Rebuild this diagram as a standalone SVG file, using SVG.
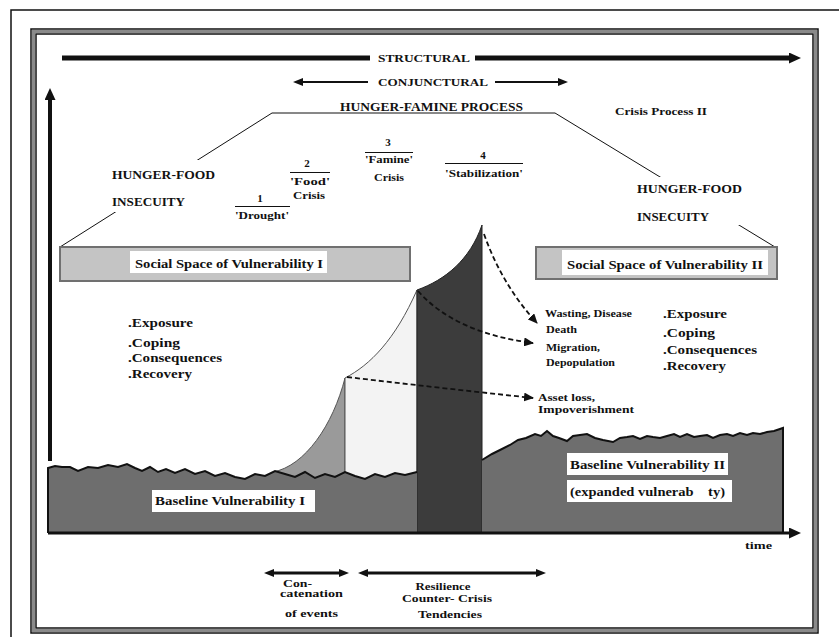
<svg xmlns="http://www.w3.org/2000/svg" width="839" height="637" viewBox="0 0 839 637">
<style>
.t{font-family:'Liberation Serif','DejaVu Serif','Times New Roman',serif;font-weight:700;fill:#111;}
.s10{font-size:10px}.s11{font-size:11px}.s12{font-size:12px}.s13{font-size:13px}
.m{text-anchor:middle}
.ln{fill:none;stroke:#111;}
.dash{fill:none;stroke:#111;stroke-width:1.8;stroke-dasharray:5,3;}
.wb{fill:#fff;stroke:none}
.pre{white-space:pre}
</style>
<defs>
<marker id="big" viewBox="0 0 12 11" markerWidth="12" markerHeight="11" refX="1" refY="5.5" orient="auto-start-reverse" markerUnits="userSpaceOnUse"><path d="M0,0 L12,5.5 L0,11 z" fill="#111"/></marker>
<marker id="sm" viewBox="0 0 10 8" markerWidth="10" markerHeight="8" refX="1" refY="4" orient="auto-start-reverse" markerUnits="userSpaceOnUse"><path d="M0,0 L10,4 L0,8 z" fill="#111"/></marker>
<marker id="dh" viewBox="0 0 10 9" markerWidth="10" markerHeight="9" refX="9" refY="4.5" orient="auto" markerUnits="userSpaceOnUse"><path d="M0,0 L10,4.5 L0,9 z" fill="#111"/></marker>
</defs>

<g id="frame">
<path d="M11,637 V10 H839" fill="none" stroke="#111" stroke-width="1.5"/>
<rect x="33.5" y="31.5" width="782" height="599" fill="none" stroke="#8a8a8a" stroke-width="3"/>
<rect x="31" y="29" width="787" height="604" fill="none" stroke="#111" stroke-width="1.5"/>
<rect x="36" y="34" width="777" height="594" fill="none" stroke="#111" stroke-width="1.5"/>
</g>

<g id="process-outline">
<polyline class="ln" points="60,247 272,113 555,113 775,247" stroke="#333" stroke-width="1"/>
<rect class="wb" x="108" y="160" width="112" height="52"/>
<rect class="wb" x="630" y="177" width="117" height="48"/>
</g>

<g id="social-space-1">
<rect x="60" y="247" width="350" height="34" fill="#c4c4c4" stroke="#707070" stroke-width="2"/>
<rect class="wb" x="130" y="251" width="197" height="22"/>
<text class="t s13" x="135" y="268" textLength="188" lengthAdjust="spacingAndGlyphs">Social Space of Vulnerability I</text>
</g>
<g id="social-space-2">
<rect x="536" y="247" width="241" height="32" fill="#c4c4c4" stroke="#707070" stroke-width="2"/>
<rect class="wb" x="562" y="250" width="206" height="25"/>
<text class="t s13" x="567" y="269" textLength="196" lengthAdjust="spacingAndGlyphs">Social Space of Vulnerability II</text>
</g>

<g id="crisis-regions">
<path d="M273,472 C305,466 333,425 345,378 L345,482 L273,482 Z" fill="#9a9a9a" stroke="#555" stroke-width="1"/>
<path d="M345,378 C370,365 395,340 417,290 L417,482 L345,482 Z" fill="#f3f3f3" stroke="#555" stroke-width="1"/>
<path d="M417,290 C445,280 470,260 482,225 L482,533 L417,533 Z" fill="#3c3c3c" stroke="#222" stroke-width="1"/>
</g>

<g id="baseline-1">
<path d="M48,533 L48,468 L55,466 L62,467 L70,467 L78,471 L88,467 L98,468 L108,465 L118,467 L127,464 L135,468 L142,471 L150,467 L158,472 L166,469 L175,473 L185,469 L195,474 L205,471 L215,476 L225,473 L235,477 L245,479 L255,474 L265,476 L275,471 L285,474 L295,477 L305,472 L315,478 L325,474 L335,477 L345,472 L355,476 L365,479 L375,474 L385,477 L395,473 L405,475 L417,472 L417,533 Z" fill="#6e6e6e"/>
<polyline class="ln" stroke-width="2" points="48,533 48,468 55,466 62,467 70,467 78,471 88,467 98,468 108,465 118,467 127,464 135,468 142,471 150,467 158,472 166,469 175,473 185,469 195,474 205,471 215,476 225,473 235,477 245,479 255,474 265,476 275,471 285,474 295,477 305,472 315,478 325,474 335,477 345,472 355,476 365,479 375,474 385,477 395,473 405,475 417,472"/>
<rect class="wb" x="152" y="490" width="163" height="22"/>
<text class="t s12" x="155" y="505" textLength="150" lengthAdjust="spacingAndGlyphs">Baseline Vulnerability I</text>
</g>

<g id="baseline-2">
<path d="M482,533 L482,460 L492,454 L500,450 L510,445 L518,440 L526,438 L535,434 L541,436 L547,431 L553,436 L559,438 L567,441 L573,436 L580,435 L587,434 L595,438 L603,440 L613,442 L620,438 L627,437 L633,436 L640,439 L647,436 L653,437 L660,438 L667,436 L674,434 L680,437 L687,434 L694,437 L700,436 L707,435 L713,438 L720,435 L727,434 L733,436 L740,433 L747,435 L753,433 L760,434 L767,432 L774,431 L783,428 L783,533 Z" fill="#6e6e6e"/>
<polyline class="ln" stroke-width="2" points="482,460 492,454 500,450 510,445 518,440 526,438 535,434 541,436 547,431 553,436 559,438 567,441 573,436 580,435 587,434 595,438 603,440 613,442 620,438 627,437 633,436 640,439 647,436 653,437 660,438 667,436 674,434 680,437 687,434 694,437 700,436 707,435 713,438 720,435 727,434 733,436 740,433 747,435 753,433 760,434 767,432 774,431 783,428 783,533"/>
<rect class="wb" x="567" y="453" width="161" height="22"/>
<text class="t s12" x="570" y="469" textLength="155" lengthAdjust="spacingAndGlyphs">Baseline Vulnerability II</text>
<rect class="wb" x="567" y="480" width="165" height="22"/>
<text class="t s12 pre" x="570" y="496" textLength="155" lengthAdjust="spacingAndGlyphs">(expanded vulnerab    ty)</text>
</g>

<g id="connectors">
<line class="ln" x1="62" y1="58" x2="370" y2="58" stroke-width="5"/>
<line class="ln" x1="475" y1="58" x2="790" y2="58" stroke-width="5" marker-end="url(#big)"/>
<line class="ln" x1="368" y1="82" x2="302" y2="82" stroke-width="2" marker-end="url(#sm)"/>
<line class="ln" x1="495" y1="82" x2="559" y2="82" stroke-width="2" marker-end="url(#sm)"/>
<line class="ln" x1="50" y1="461" x2="50" y2="99" stroke-width="4" marker-end="url(#big)"/>
<line class="ln" x1="48" y1="533" x2="790" y2="533" stroke-width="3" marker-end="url(#big)"/>
<line class="ln" x1="273" y1="573" x2="340" y2="573" stroke-width="3" marker-start="url(#sm)" marker-end="url(#sm)"/>
<line class="ln" x1="367" y1="573" x2="537" y2="573" stroke-width="3" marker-start="url(#sm)" marker-end="url(#sm)"/>
<path class="dash" d="M484,234 Q502,285 537,323" marker-end="url(#dh)"/>
<path class="dash" d="M418,291 Q455,333 533,343" marker-end="url(#dh)"/>
<path class="dash" d="M347,377 Q440,388 533,398" marker-end="url(#dh)"/>
</g>

<g id="timescale-labels">
<text class="t s11" x="378" y="62" textLength="92" lengthAdjust="spacingAndGlyphs">STRUCTURAL</text>
<text class="t s11" x="378" y="86" textLength="110" lengthAdjust="spacingAndGlyphs">CONJUNCTURAL</text>
<text class="t s12" x="340" y="111" textLength="183" lengthAdjust="spacingAndGlyphs">HUNGER-FAMINE PROCESS</text>
<text class="t s10" x="615" y="115" textLength="92" lengthAdjust="spacingAndGlyphs">Crisis Process II</text>
</g>

<g id="hunger-food-left">
<text class="t s12" x="112" y="179" textLength="103" lengthAdjust="spacingAndGlyphs">HUNGER-FOOD</text>
<text class="t s12" x="112" y="206" textLength="73" lengthAdjust="spacingAndGlyphs">INSECUITY</text>
</g>
<g id="hunger-food-right">
<text class="t s12" x="637" y="193" textLength="105" lengthAdjust="spacingAndGlyphs">HUNGER-FOOD</text>
<text class="t s12" x="637" y="221" textLength="72" lengthAdjust="spacingAndGlyphs">INSECUITY</text>
</g>

<g id="stage-1">
<text class="t s11 m" x="260" y="202">1</text>
<line class="ln" x1="235" y1="206.5" x2="290" y2="206.5" stroke-width="1.2"/>
<text class="t s11 m" x="262" y="219" textLength="54" lengthAdjust="spacingAndGlyphs">'Drought'</text>
</g>
<g id="stage-2">
<text class="t s11 m" x="307" y="167">2</text>
<line class="ln" x1="290" y1="172.5" x2="330" y2="172.5" stroke-width="1.2"/>
<text class="t s11 m" x="310" y="185" textLength="40" lengthAdjust="spacingAndGlyphs">'Food'</text>
<text class="t s11 m" x="309" y="199" textLength="32" lengthAdjust="spacingAndGlyphs">Crisis</text>
</g>
<g id="stage-3">
<text class="t s11 m" x="388" y="146">3</text>
<line class="ln" x1="365" y1="152.5" x2="413" y2="152.5" stroke-width="1.2"/>
<text class="t s11 m" x="389" y="163" textLength="48" lengthAdjust="spacingAndGlyphs">'Famine'</text>
<text class="t s11 m" x="389" y="181" textLength="30" lengthAdjust="spacingAndGlyphs">Crisis</text>
</g>
<g id="stage-4">
<text class="t s11 m" x="483" y="159">4</text>
<line class="ln" x1="445" y1="163.5" x2="523" y2="163.5" stroke-width="1.2"/>
<text class="t s11 m" x="484" y="177" textLength="78" lengthAdjust="spacingAndGlyphs">'Stabilization'</text>
</g>

<g id="phases-left">
<text class="t s12" x="128" y="327" textLength="65" lengthAdjust="spacingAndGlyphs">.Exposure</text>
<text class="t s12" x="128" y="347" textLength="52" lengthAdjust="spacingAndGlyphs">.Coping</text>
<text class="t s12" x="128" y="362" textLength="94" lengthAdjust="spacingAndGlyphs">.Consequences</text>
<text class="t s12" x="128" y="378" textLength="64" lengthAdjust="spacingAndGlyphs">.Recovery</text>
</g>
<g id="phases-right">
<text class="t s12" x="663" y="318" textLength="64" lengthAdjust="spacingAndGlyphs">.Exposure</text>
<text class="t s12" x="663" y="337" textLength="52" lengthAdjust="spacingAndGlyphs">.Coping</text>
<text class="t s12" x="663" y="354" textLength="94" lengthAdjust="spacingAndGlyphs">.Consequences</text>
<text class="t s12" x="663" y="370" textLength="63" lengthAdjust="spacingAndGlyphs">.Recovery</text>
</g>

<g id="outcomes-famine">
<text class="t s11" x="545" y="317" textLength="87" lengthAdjust="spacingAndGlyphs">Wasting, Disease</text>
<text class="t s11" x="546" y="333" textLength="31" lengthAdjust="spacingAndGlyphs">Death</text>
<text class="t s11" x="546" y="351" textLength="54" lengthAdjust="spacingAndGlyphs">Migration,</text>
<text class="t s11" x="546" y="366" textLength="69" lengthAdjust="spacingAndGlyphs">Depopulation</text>
</g>
<g id="outcomes-asset">
<text class="t s11" x="538" y="401" textLength="57" lengthAdjust="spacingAndGlyphs">Asset loss,</text>
<text class="t s11" x="538" y="413" textLength="96" lengthAdjust="spacingAndGlyphs">Impoverishment</text>
</g>

<g id="time-label">
<text class="t s11" x="745" y="549" textLength="27" lengthAdjust="spacingAndGlyphs">time</text>
</g>

<g id="concatenation">
<text class="t s10" x="283" y="587" textLength="29" lengthAdjust="spacingAndGlyphs">Con-</text>
<text class="t s10" x="280" y="597" textLength="63" lengthAdjust="spacingAndGlyphs">catenation</text>
<text class="t s10" x="285" y="617" textLength="53" lengthAdjust="spacingAndGlyphs">of events</text>
</g>
<g id="resilience">
<text class="t s10 m" x="443" y="590" textLength="55" lengthAdjust="spacingAndGlyphs">Resilience</text>
<text class="t s10 m" x="447" y="602" textLength="90" lengthAdjust="spacingAndGlyphs">Counter- Crisis</text>
<text class="t s10 m" x="450" y="618" textLength="64" lengthAdjust="spacingAndGlyphs">Tendencies</text>
</g>
</svg>
